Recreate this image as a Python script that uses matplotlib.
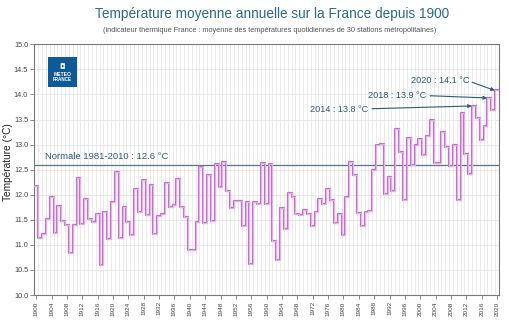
import numpy as np
import matplotlib
matplotlib.use("Agg")
import matplotlib.pyplot as plt
from matplotlib.patches import Rectangle

plt.rcParams['font.family'] = ['Liberation Sans', 'DejaVu Sans']

years = list(range(1900, 2021))
temps = [
    12.17, 11.14, 11.22, 11.51, 11.96, 11.24, 11.78, 11.47, 11.39, 10.84,  # 1900-1909
    11.40, 12.34, 11.42, 11.91, 11.51, 11.46, 11.62, 10.60, 11.66, 11.12,  # 1910-1919
    11.86, 12.45, 11.14, 11.75, 11.46, 11.20, 12.12, 11.65, 12.30, 11.59,  # 1920-1929
    12.19, 11.22, 11.57, 11.62, 12.23, 11.75, 11.80, 12.32, 11.75, 11.55,  # 1930-1939
    10.89, 10.90, 11.46, 12.56, 11.44, 12.40, 11.47, 12.62, 12.15, 12.66,  # 1940-1949
    12.07, 11.73, 11.88, 11.88, 11.37, 11.86, 10.61, 11.86, 11.81, 12.63,  # 1950-1959
    11.82, 12.61, 11.07, 10.70, 11.73, 11.32, 12.04, 11.96, 11.62, 11.60,  # 1960-1969
    11.69, 11.61, 11.38, 11.65, 11.92, 11.82, 12.12, 11.89, 11.43, 11.62,  # 1970-1979
    11.20, 11.95, 12.66, 12.39, 11.64, 11.38, 11.66, 11.68, 12.50, 12.99,  # 1980-1989
    13.02, 12.02, 12.35, 12.07, 13.32, 12.86, 11.89, 13.14, 12.60, 13.00,  # 1990-1999
    13.12, 12.79, 13.17, 13.50, 12.63, 12.63, 13.26, 12.95, 12.58, 12.99,  # 2000-2009
    11.89, 13.62, 12.81, 12.41, 13.77, 13.54, 13.09, 13.37, 13.93, 13.69,  # 2010-2019
    14.08,                                                                 # 2020
]
normal_value = 12.6
normal_label = "Normale 1981-2010 : 12.6 °C"
highlights = [(2014, 13.8), (2018, 13.9), (2020, 14.1)]
xtick_years = list(range(1900, 2021, 4))
ytick_values = [10.0, 10.5, 11.0, 11.5, 12.0, 12.5, 13.0, 13.5, 14.0, 14.5, 15.0]

title = "Température moyenne annuelle sur la France depuis 1900"
subtitle = "(indicateur thermique France : moyenne des températures quotidiennes de 30 stations métropolitaines)"

W, H = 509, 323
fig = plt.figure(figsize=(W / 100, H / 100), dpi=100)
ax = fig.add_axes([34.3 / W, 1 - 295 / H, (499 - 34.3) / W, (295 - 44.3) / H])

yrs = np.array(years)
vals = np.array(temps)
edges = np.append(yrs - 0.5, yrs[-1] + 0.5)
stepv = np.append(vals, vals[-1])

# grid
for e in edges:
    ax.axvline(e, color='#e8e8e8', lw=0.6, zorder=0)
for yv in np.arange(10.0, 15.01, 0.5):
    ax.axhline(yv, color='#e6e6e6', lw=0.6, zorder=0)

ax.step(edges, stepv, where='post', color='#c472cf', lw=1.6, zorder=3)
ax.step(edges, stepv, where='post', color='#f2d6f4', lw=0.45, zorder=4)

ax.axhline(normal_value, color='#5a7588', lw=0.9, zorder=2)
ax.text(1902.3, normal_value + 0.07, normal_label, color='#2d5b78', fontsize=6.8,
        ha='left', va='bottom', zorder=5)

ax.set_xlim(1899.5, 2020.5)
ax.set_ylim(10, 15)
ax.set_xticks(xtick_years)
ax.set_xticklabels([str(y) for y in xtick_years], rotation=90, fontsize=4.6, color='#444444')
ax.set_yticks(ytick_values)
ax.set_yticklabels([f"{v:.1f}" for v in ytick_values], fontsize=5.2, color='#444444')
ax.tick_params(axis='both', length=3, width=0.6, color='#777777', pad=1.5)
for s in ax.spines.values():
    s.set_color('#777777')
    s.set_linewidth(0.8)
ax.set_ylabel("Température (°C)", fontsize=7.3, color='#222222')
ax.yaxis.set_label_coords(-0.046, 0.53)

# annotations
def px2data(x, y):
    return 1899.5 + (x - 34.3) / 3.84, 10 + (295 - y) / 50.2

ann_specs = {
    2014: ((310, 109), (372, 108.5)),
    2018: ((368, 95), (430, 95.5)),
    2020: ((411, 80), (472, 82)),
}
arrow_color = '#2d5b78'
for yr, v in highlights:
    (tx, ty), (sx, sy) = ann_specs[yr]
    dx, dy = px2data(tx, ty)
    ax.text(dx, dy, f"{yr} : {v} °C", color=arrow_color, fontsize=6.6, ha='left', va='center', zorder=6)
    ax_, ay_ = px2data(sx, sy)
    ax.annotate("", xy=(yr - 0.6, temps[years.index(yr)]), xytext=(ax_, ay_),
                arrowprops=dict(arrowstyle='-|>', color=arrow_color, lw=0.8,
                                mutation_scale=5, shrinkA=0, shrinkB=0), zorder=6)

# titles
fig.text(272 / W, 1 - 14 / H, title, ha='center', va='center', fontsize=9.8, color='#2a6b8c')
fig.text(270 / W, 1 - 30 / H, subtitle, ha='center', va='center', fontsize=5.35, color='#555555')

# logo
fig.patches.append(Rectangle((48 / W, 1 - 87 / H), 29 / W, 30 / H, transform=fig.transFigure,
                             facecolor='#0d5a97', edgecolor='none', zorder=10))
fig.text(62.5 / W, 1 - 67 / H, "◘", ha='center', va='center', fontsize=5, color='white',
         family=['DejaVu Sans'], zorder=11)
fig.text(62.5 / W, 1 - 74.5 / H, "METEO", ha='center', va='center', fontsize=3.6, color='white',
         fontweight='bold', zorder=11)
fig.text(62.5 / W, 1 - 79.5 / H, "FRANCE", ha='center', va='center', fontsize=3.3, color='white',
         fontweight='bold', zorder=11)

fig.savefig("out.png", dpi=100)
